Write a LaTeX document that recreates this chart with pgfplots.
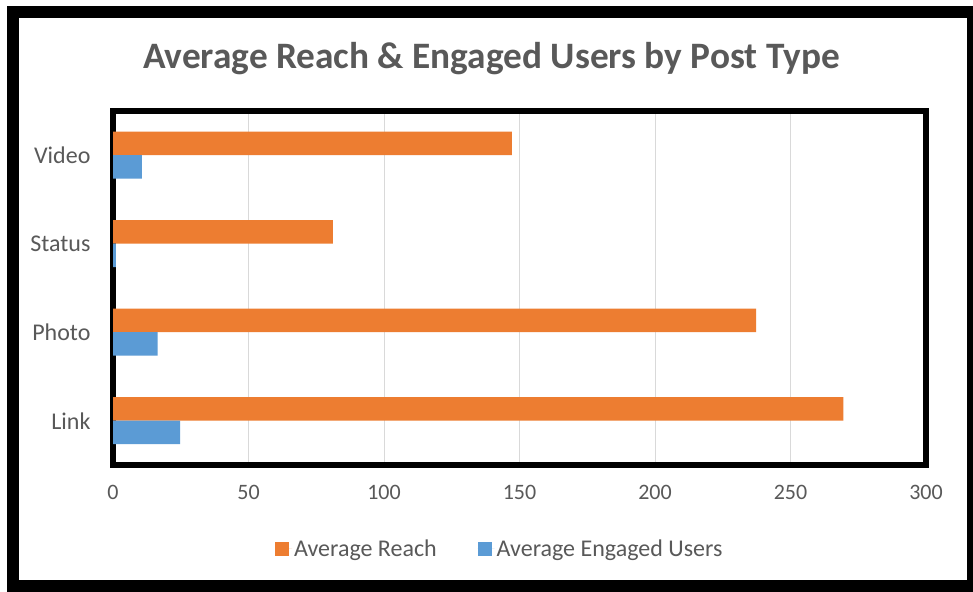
\documentclass[border=0pt]{standalone}
\usepackage{pgfplots}
\pgfplotsset{compat=1.18}
\usepackage{fontspec}
\setmainfont{Carlito}
\definecolor{reach}{HTML}{ED7D31}
\definecolor{engaged}{HTML}{5B9BD5}
\definecolor{txtgray}{HTML}{595959}
\definecolor{gridgray}{HTML}{D9D9D9}
\begin{document}
\begin{tikzpicture}
\useasboundingbox (0,0) rectangle (973pt,591pt);
\fill[white] (0,0) rectangle (973pt,591pt);
\begin{axis}[
  at={(113pt,126pt)}, anchor=south west,
  scale only axis, width=813pt, height=354pt,
  xmin=0, xmax=300, ymin=0.5, ymax=4.5,
  xtick={0,50,...,300},
  ytick={1,2,3,4},
  yticklabels={Link,Photo,Status,Video},
  major tick length=0pt,
  xmajorgrids, grid style={gridgray, line width=1pt},
  axis line style={line width=6pt, black},
  /pgf/number format/assume math mode=true,
  xticklabel style={font=\fontsize{22}{26}\selectfont, text=txtgray, yshift=-17pt},
  yticklabel style={font=\fontsize{24}{28}\selectfont, text=txtgray, xshift=-19pt},
  xbar, bar width=23.5pt,
  legend style={at={(0.4757,-0.237)}, anchor=center, draw=none, fill=none,
    legend columns=2, font=\fontsize{24}{28}\selectfont, text=txtgray,
    nodes={inner sep=2pt},
    /tikz/every even column/.append style={column sep=39pt}},
  legend image code/.code={\fill[#1] (0pt,-7pt) rectangle (14pt,7pt); \path (0pt,0pt) -- (17pt,0pt);},
]
\addplot[fill=reach, draw=none, bar shift=11.75pt] coordinates {(269.5,1) (237.3,2) (81.1,3) (147.2,4)};
\addlegendentry{Average Reach}
\addplot[fill=engaged, draw=none, bar shift=-11.75pt] coordinates {(24.8,1) (16.5,2) (1.1,3) (10.7,4)};
\addlegendentry{Average Engaged Users}
\end{axis}
\node[text=txtgray, font=\fontsize{37.3}{44}\selectfont\bfseries] at (491.5pt,532pt) {Average Reach \& Engaged Users by Post Type};
\draw[line width=12pt, black] (13pt,5.5pt) rectangle (973pt,579pt);
\end{tikzpicture}
\end{document}
